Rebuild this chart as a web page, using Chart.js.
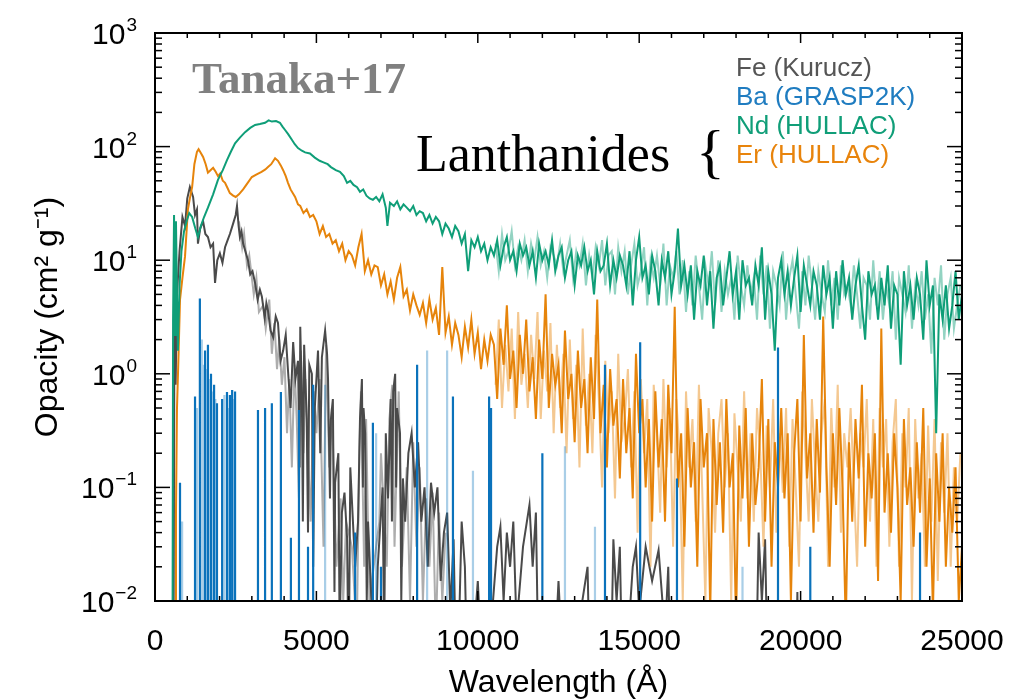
<!DOCTYPE html>
<html>
<head>
<meta charset="utf-8">
<script src="https://cdn.jsdelivr.net/npm/chart.js@4.4.1/dist/chart.umd.min.js"></script>
<style>
  body { margin: 0; background: #fff; }
  #wrap { position: relative; width: 1027px; height: 699px; }
  .note { position: absolute; white-space: nowrap; line-height: 1; }
  #tanaka { left: 192px; top: 52px; font: bold 45px "Liberation Serif", serif; color: #808080; }
  #lanth { left: 416px; top: 124px; font: 52px "Liberation Serif", serif; color: #000; }
  #brace { left: 696px; top: 117px; font: 60px "Liberation Serif", serif; color: #000; }
  .leg { left: 736px; font: 26px "Liberation Sans", Arial, sans-serif; }
</style>
</head>
<body>
<div id="wrap">
  <canvas id="grafica" width="1027" height="699"></canvas>
  <div class="note" id="tanaka">Tanaka+17</div>
  <div class="note" id="lanth">Lanthanides</div>
  <div class="note" id="brace">{</div>
  <div class="note leg" style="top:52px;color:#555555">Fe (Kurucz)</div>
  <div class="note leg" style="top:81px;color:#1f7cc0">Ba (GRASP2K)</div>
  <div class="note leg" style="top:110px;color:#109e78">Nd (HULLAC)</div>
  <div class="note leg" style="top:139px;color:#e8840c">Er (HULLAC)</div>
</div>
<script>
// axis ticks
const xTickValues = [0, 5000, 10000, 15000, 20000, 25000];
const yTickValues = [1000, 100, 10, 1, 0.1, 0.01];
const yTickPowers = ['3', '2', '1', '0', '\u22121', '\u22122'];

// wavelength grids of the noisy red part (A)
const noiseWave = [
  10500, 10600, 10700, 10800, 10900, 11000, 11100, 11200, 11300, 11400,
  11500, 11600, 11700, 11800, 11900, 12000, 12100, 12200, 12300, 12400,
  12500, 12600, 12700, 12800, 12900, 13000, 13100, 13200, 13300, 13400,
  13500, 13600, 13700, 13800, 13900, 14000, 14100, 14200, 14300, 14400,
  14500, 14600, 14700, 14800, 14900, 15000, 15100, 15200, 15300, 15400,
  15500, 15600, 15700, 15800, 15900, 16000, 16100, 16200, 16300, 16400,
  16500, 16600, 16700, 16800, 16900, 17000, 17100, 17200, 17300, 17400,
  17500, 17600, 17700, 17800, 17900, 18000, 18100, 18200, 18300, 18400,
  18500, 18600, 18700, 18800, 18900, 19000, 19100, 19200, 19300, 19400,
  19500, 19600, 19700, 19800, 19900, 20000, 20100, 20200, 20300, 20400,
  20500, 20600, 20700, 20800, 20900, 21000, 21100, 21200, 21300, 21400,
  21500, 21600, 21700, 21800, 21900, 22000, 22100, 22200, 22300, 22400,
  22500, 22600, 22700, 22800, 22900, 23000, 23100, 23200, 23300, 23400,
  23500, 23600, 23700, 23800, 23900, 24000, 24100, 24200, 24300, 24400,
  24500, 24600, 24700, 24800, 24900, 25000
];
const noiseWave2 = [
  10550, 10650, 10750, 10850, 10950, 11050, 11150, 11250, 11350, 11450,
  11550, 11650, 11750, 11850, 11950, 12050, 12150, 12250, 12350, 12450,
  12550, 12650, 12750, 12850, 12950, 13050, 13150, 13250, 13350, 13450,
  13550, 13650, 13750, 13850, 13950, 14050, 14150, 14250, 14350, 14450,
  14550, 14650, 14750, 14850, 14950, 15050, 15150, 15250, 15350, 15450,
  15550, 15650, 15750, 15850, 15950, 16050, 16150, 16250, 16350, 16450,
  16550, 16650, 16750, 16850, 16950, 17050, 17150, 17250, 17350, 17450,
  17550, 17650, 17750, 17850, 17950, 18050, 18150, 18250, 18350, 18450,
  18550, 18650, 18750, 18850, 18950, 19050, 19150, 19250, 19350, 19450,
  19550, 19650, 19750, 19850, 19950, 20050, 20150, 20250, 20350, 20450,
  20550, 20650, 20750, 20850, 20950, 21050, 21150, 21250, 21350, 21450,
  21550, 21650, 21750, 21850, 21950, 22050, 22150, 22250, 22350, 22450,
  22550, 22650, 22750, 22850, 22950, 23050, 23150, 23250, 23350, 23450,
  23550, 23650, 23750, 23850, 23950, 24050, 24150, 24250, 24350, 24450,
  24550, 24650, 24750, 24850, 24950
];

// Nd (HULLAC)
const ndWave = [
  450, 540, 560, 590, 620, 650, 680, 710, 760, 820, 900, 980, 1060, 1150, 1250, 1330,
  1420, 1520, 1640, 1800, 1950, 2100, 2230, 2350, 2480, 2630, 2790, 2950, 3100, 3250,
  3410, 3520, 3620, 3750, 3870, 3950, 4030, 4130, 4240, 4330, 4430, 4550, 4650, 4800,
  4950, 5100, 5200, 5350, 5450, 5600, 5730, 5850, 5950, 6050, 6150, 6260, 6350, 6450,
  6550, 6650, 6750, 6850, 6950, 7050, 7150, 7200, 7280, 7400, 7500, 7600, 7700, 7800,
  7900, 8000, 8100, 8200, 8300, 8400, 8500, 8600, 8700, 8800, 8900, 9000, 9100, 9200,
  9300, 9400, 9500, 9600, 9700, 9800, 9900, 10000, 10100, 10200, 10300, 10400
];
const ndOpacity = [
  0.001, 0.001, 3, 25, 2.2, 22, 5, 1.6, 6, 12, 18, 22, 26, 24, 19, 16,
  20, 24, 29, 38, 51, 62, 76, 90, 107, 120, 134, 146, 155, 158,
  162, 170, 166, 168, 162, 150, 140, 128, 115, 105, 97, 92, 89, 87,
  80, 75, 73, 70, 66, 62, 60, 55, 48, 50, 46, 44, 40, 42,
  37, 35, 34, 36, 33, 38, 29, 20, 32, 30, 33, 28, 31, 29,
  27, 30, 25, 27, 26, 22, 25, 21, 24, 22, 17, 21, 19, 16,
  20, 18, 14, 17, 8, 15, 13, 16, 12, 14, 10, 13
];
const ndNoise = [
  11, 15, 9, 13, 16, 10, 12, 8, 14, 11,
  13, 9, 12, 7, 14, 10, 12, 9, 15, 8,
  11, 13, 7, 10, 12, 6, 11, 9, 13, 8,
  10, 5, 12, 8, 9, 14, 6, 10, 7, 11,
  9, 6, 12, 4, 10, 16, 7, 9, 5, 11,
  8, 4, 10, 7, 12, 5, 8, 19, 6, 9,
  5, 9, 3, 8, 6, 11, 4, 8, 2.5, 7,
  9, 4, 7, 12, 5, 8, 3, 10, 6, 7,
  4, 9, 6, 13, 3, 8, 5, 1.6, 7, 10,
  5, 8, 4, 7, 11, 3.5, 9, 6, 4, 8,
  6, 3, 9, 5, 7, 2.5, 8, 4, 10, 5,
  7, 3, 6, 9, 4, 2, 8, 5, 6, 3,
  7, 4, 9, 2.5, 6, 5, 1.2, 8, 4, 6,
  3, 7, 5, 2, 10, 4, 6, 0.3, 5, 3,
  6, 2.5, 4, 8, 3, 5
];
const ndFaint = [
  14, 8, 17, 10, 12, 18, 9, 13, 10, 15,
  8, 14, 10, 16, 9, 12, 7, 13, 11, 9,
  14, 8, 11, 15, 7, 12, 9, 14, 6, 11,
  7, 13, 9, 15, 6, 11, 12, 5, 13, 8,
  12, 5, 9, 14, 6, 8, 13, 4, 10, 7,
  11, 6, 14, 4, 9, 7, 12, 5, 10, 3.5,
  8, 4, 11, 6, 3, 9, 6, 12, 4, 10,
  3.5, 8, 5, 7, 3, 11, 6, 4, 9, 5,
  7, 3, 11, 5, 9, 2.5, 8, 6, 4, 12,
  3, 7, 10, 5, 2.5, 8, 4, 11, 6, 3,
  8, 5, 3.5, 10, 4, 7, 3, 9, 5, 6,
  4, 9, 5, 2.5, 7, 6, 3, 10, 4, 8,
  3, 6, 4, 8, 2, 7, 5, 3.5, 9, 2.5,
  6, 4, 8, 3, 5, 1.5, 7, 4, 9, 2,
  5, 7, 2.5, 4, 6
];

// Er (HULLAC)
const erWave = [
  560, 620, 650, 680, 730, 775, 850, 930, 1020, 1080, 1150, 1220, 1300, 1350, 1420, 1490,
  1570, 1640, 1720, 1800, 1880, 1950, 2020, 2100, 2170, 2250, 2320, 2420, 2500, 2600,
  2730, 2850, 3000, 3150, 3300, 3420, 3500, 3600, 3720, 3810, 3900, 3970, 4050, 4120,
  4200, 4340, 4430,
  4500, 4600, 4700, 4800, 4900, 5000, 5100, 5200, 5300, 5400, 5500, 5600, 5700, 5800,
  5900, 6000, 6100, 6200, 6300, 6400, 6500, 6600, 6700, 6800, 6900, 7000, 7100, 7200,
  7300, 7400, 7500, 7600, 7700, 7800, 7900, 8000, 8100, 8200, 8300, 8400, 8500, 8600,
  8700, 8800, 8900, 9000, 9100, 9200, 9300, 9400, 9500, 9600, 9700, 9800, 9900, 10000,
  10100, 10200, 10300, 10400
];
const erOpacity = [
  0.001, 0.001, 0.06, 0.48, 1.5, 4.5, 7, 10.8, 28, 35, 44, 70, 90, 95, 88, 81,
  70, 59, 62, 65, 60, 55, 58, 50, 48, 43, 39, 37, 36, 38,
  42, 47, 54, 57, 60, 63, 66, 70, 79, 75, 68, 62, 55, 48,
  42, 36, 31,
  30, 26, 28, 24, 25, 22, 17, 20, 16, 17, 14, 15, 12, 14,
  10, 12, 11, 9, 13, 17, 8, 10, 7.5, 9, 8.7, 6, 7.5, 5,
  6.5, 4.5, 7, 8.7, 4.8, 5.5, 3.6, 5, 4, 3.3, 4.2, 2.8, 4.5, 3,
  3.8, 2.2, 8.7, 2.3, 3.2, 1.8, 2.8, 2.2, 1.4, 2.6, 1.7, 3, 1.5, 2.3,
  1.1, 2, 1.3, 2.2
];
const erNoise = [
  1.8, 0.6, 2.5, 1.2, 4, 0.9, 1.6, 0.5, 2.2, 1.0,
  3, 0.7, 1.4, 0.4, 2, 0.9, 5, 0.5, 1.5, 0.8,
  1.2, 0.3, 2.4, 0.6, 1.0, 0.25, 1.6, 0.5, 0.9, 0.2,
  1.4, 0.4, 4.5, 0.3, 0.8, 0.15, 1.1, 0.35, 0.6, 0.12,
  0.9, 0.2, 0.5, 0.08, 1.5, 0.3, 0.6, 0.1, 0.4, 0.05,
  0.7, 0.15, 0.4, 0.05, 0.8, 0.2, 3.9, 0.1, 0.3, 0.03,
  0.5, 0.1, 0.25, 0.02, 0.6, 0.15, 0.3, 0.008, 0.4, 0.07,
  0.25, 0.04, 0.6, 0.1, 0.2, 0.006, 0.35, 0.08, 0.5, 0.03,
  0.3, 0.07, 0.15, 0.9, 0.05, 0.4, 0.02, 0.25, 0.1, 0.5,
  0.08, 0.3, 0.01, 0.2, 0.6, 0.05, 2.2, 0.12, 0.3, 0.04,
  0.4, 0.09, 3.2, 0.15, 0.02, 0.3, 0.07, 0.5, 0.1, 0.006,
  0.25, 0.05, 0.4, 0.12, 0.8, 0.03, 0.2, 0.08, 0.3, 0.015,
  2.5, 0.06, 0.2, 0.04, 0.3, 0.1, 0.01, 0.4, 0.07, 0.15,
  0.03, 0.25, 0.06, 0.5, 0.02, 0.12, 0.008, 0.2, 0.05, 0.3,
  0.02, 0.1, 0.04, 0.15, 0.01, 0.03
];
const erFaint = [
  0.8, 3, 0.5, 1.8, 0.7, 2.5, 0.4, 3.5, 0.8, 1.5,
  0.5, 2.2, 0.9, 3.5, 0.4, 1.6, 0.7, 2.8, 0.3, 1.8,
  0.5, 1.5, 0.2, 2, 0.4, 1.2, 0.15, 2.5, 0.35, 1.0,
  0.2, 2.2, 0.6, 0.1, 1.3, 0.3, 0.7, 0.08, 1.5, 0.25,
  0.4, 1.1, 0.15, 0.7, 0.04, 0.9, 0.2, 0.6, 0.02, 0.8,
  0.3, 0.06, 0.9, 0.15, 0.5, 0.03, 0.6, 0.2, 0.01, 0.7,
  0.15, 0.4, 0.05, 0.8, 0.1, 0.01, 0.5, 0.2, 0.04, 0.3,
  0.6, 0.1, 0.3, 0.01, 0.45, 0.15, 0.05, 0.7, 0.08, 0.3,
  0.05, 0.5, 0.2, 0.03, 0.35, 0.1, 0.6, 0.04, 0.3, 0.09,
  0.5, 0.03, 0.4, 0.1, 0.02, 0.7, 0.2, 0.05, 0.6, 0.15,
  0.05, 0.3, 0.6, 0.02, 0.5, 0.1, 0.8, 0.04, 0.3, 0.15,
  0.5, 0.1, 0.02, 0.3, 0.15, 0.6, 0.05, 0.4, 0.02, 0.5,
  0.15, 0.4, 0.03, 0.25, 0.6, 0.02, 0.3, 0.1, 0.5, 0.01,
  0.4, 0.08, 0.2, 0.02, 0.35, 0.05, 0.4, 0.015, 0.25, 0.06,
  0.3, 0.02, 0.15, 0.05, 0.2
];

// Fe (Kurucz)
const feWave = [
  500, 570, 600, 640, 680, 760, 850, 930, 1000, 1080, 1180, 1240, 1300, 1330, 1400, 1490,
  1560, 1640, 1720, 1800, 1860, 1930, 2010, 2090, 2170, 2250, 2320, 2420, 2500, 2540,
  2590, 2630, 2680, 2730, 2800, 2880, 2950, 3020, 3100, 3180, 3250, 3310, 3400, 3450,
  3500, 3580, 3660, 3740, 3810, 3890, 3970, 4050, 4120, 4200, 4280, 4350, 4430, 4480,
  4500, 4550, 4580, 4620, 4700, 4740, 4780, 4860, 4900, 4950, 5050, 5120, 5170, 5270,
  5330, 5360, 5420, 5450, 5510, 5560, 5580, 5680, 5720, 5790, 5870, 5950, 6000, 6050,
  6200, 6290, 6350, 6410, 6440, 6460, 6510, 6560, 6600, 6720, 6800, 6900, 7050, 7100,
  7150, 7220, 7300, 7340, 7380, 7440, 7470, 7500, 7590, 7630, 7680, 7750, 7850, 7950,
  8050, 8150, 8250, 8350, 8450, 8550, 8650, 8750, 8850, 8950, 9050, 9150, 9250, 9350,
  9500, 9600, 9700, 10000, 10200, 10600, 10700, 10800, 10900, 11000, 11100, 11200, 11400, 11600,
  11700, 11800, 11900, 12300, 12500, 12700, 13400, 13500, 14100, 14200, 14300, 14400, 14500, 14800,
  14900, 15000, 15200, 15400, 15600, 15800, 15900, 16000, 18600, 18700, 18800, 18900, 19000, 19850,
  19900, 19950, 25000
];
const feOpacity = [
  0.001, 0.001, 2.3, 0.8, 5, 12, 24, 20, 35, 44, 36, 25, 28, 14, 19, 22,
  17, 16, 13, 14, 6.3, 10, 11.5, 9.5, 13, 15, 17, 21, 25, 30,
  20, 16, 18, 14, 12, 10, 7.5, 8, 6.3, 4.5, 5.5, 4.8, 3.1, 4.2,
  3.6, 2.4, 2.1, 3.2, 2.8, 1.3, 1.6, 2.2, 1.07, 0.5, 1.9, 0.9, 1.3, 0.15,
  2.6, 0.63, 0.05, 1.8, 0.4, 0.04, 1.2, 1.0, 0.02, 0.5, 1.6, 0.2, 1.4, 2.4,
  1.5, 0.9, 0.08, 0.4, 0.6, 0.012, 0.11, 0.2, 0.005, 0.06, 0.09, 0.036, 0.002, 0.15,
  0.02, 0.05, 0.4, 0.9, 0.1, 0.5, 0.3, 0.01, 0.05, 0.008, 0.001, 0.02, 0.1, 0.004,
  0.3, 0.08, 0.6, 0.05, 0.7, 1.0, 0.1, 0.5, 0.3, 0.01, 0.12, 0.05, 0.2, 0.3,
  0.1, 0.25, 0.05, 0.1, 0.02, 0.11, 0.06, 0.1, 0.015, 0.04, 0.06, 0.008, 0.035, 0.001,
  0.05, 0.02, 0.001, 0.015, 0.001, 0.03, 0.045, 0.01, 0.04, 0.02, 0.05, 0.006, 0.03, 0.07,
  0.02, 0.06, 0.001, 0.001, 0.015, 0.001, 0.02, 0.001, 0.001, 0.035, 0.01, 0.03, 0.001, 0.02,
  0.03, 0.008, 0.03, 0.015, 0.028, 0.005, 0.02, 0.001, 0.001, 0.04, 0.01, 0.035, 0.001, 0.001,
  0.012, 0.001, 0.001
];
const feFaintWave = [
  2600, 2700, 2760, 2850, 2920, 3060, 3140, 3220, 3350, 3430, 3540, 3620, 3700, 3780, 3850,
  3930, 4010, 4090, 4160, 4240, 4320, 4390, 4460, 4520, 4600, 4660, 4820, 4920, 5000, 5100,
  5220, 5300, 5400, 5480, 5620, 5750, 5830, 5920, 6100, 6250, 6330, 6380, 6480, 6540, 6640,
  6950, 7000, 7180, 7260, 7350, 7420, 7550, 7650, 7800, 7900, 8000, 8100, 8200, 8300, 8400,
  8500, 8600, 8700, 8800, 8900, 9000
];
const feFaint = [
  22, 13, 17, 9, 11, 5, 7, 3.5, 4, 2.5, 4.5, 1.5, 2.8, 1.1, 2,
  0.8, 1.4, 0.3, 0.9, 0.15, 1.2, 0.4, 0.08, 1.6, 0.2, 0.9, 0.05, 0.7, 0.3, 0.9,
  0.03, 1.8, 0.15, 0.5, 0.02, 0.08, 0.01, 0.05, 0.03, 0.005, 0.2, 0.7, 0.02, 0.4, 0.01,
  0.05, 0.2, 0.02, 0.4, 0.8, 0.03, 0.7, 0.02, 0.15, 0.01, 0.25, 0.03, 0.15, 0.01, 0.08,
  0.02, 0.09, 0.005, 0.06, 0.01, 0.04
];

// Ba (GRASP2K): isolated lines, peak value at each wavelength
const baWave = [
  775, 1240, 1390, 1550, 1640, 1735, 1830, 1920, 2080, 2230, 2320, 2390, 2480,
  3190, 3410, 3620, 3900, 4210, 4460, 4740, 4900, 6200, 6750, 7000, 8120, 9230,
  10350, 10410, 12000, 13940, 15030, 16170, 19300, 20300, 23700
];
const baPeak = [
  0.11, 0.63, 4.6, 1.6, 1.8, 1.0, 0.8, 0.55, 0.6, 0.69, 0.65, 0.72, 0.7,
  0.48, 0.5, 0.55, 0.69, 0.036, 0.48, 0.03, 0.8, 0.04, 0.37, 0.02, 1.2, 0.63,
  0.63, 0.5, 0.2, 1.2, 1.9, 0.12, 1.7, 0.03, 0.04
];
const baFaintWave = [
  840, 1300, 1450, 1490, 1600, 1690, 1780, 1870, 2150, 2280, 2440,
  5270, 6850, 8430, 9050, 9850, 12700, 13630, 18200
];
const baFaintPeak = [
  0.05, 0.5, 2.0, 1.2, 1.1, 0.9, 0.7, 0.6, 0.65, 0.5, 0.6,
  0.8, 0.3, 1.6, 1.6, 0.14, 0.23, 0.045, 0.02
];
const lineFloor = 0.001; // below the axis minimum

function puntos(wave, vals) {
  return wave.map((w, i) => ({ x: w, y: vals[i] }));
}
function lineas(wave, peaks) {
  const out = [];
  wave.forEach((w, i) => {
    out.push({ x: w, y: lineFloor }, { x: w, y: peaks[i] }, { x: w, y: lineFloor });
  });
  return out;
}

const cBa = '#0a72bb', cNd = '#0f9e78', cEr = '#e6840b', cFe = '#4a4a4a';

// frame, inward ticks and 10^n labels
const marco = {
  id: 'marco',
  afterDraw(chart) {
    const { ctx, chartArea: a, scales: { x, y } } = chart;
    ctx.save();
    ctx.strokeStyle = '#000';
    ctx.lineWidth = 1.5;
    const seg = (x1, y1, x2, y2) => { ctx.beginPath(); ctx.moveTo(x1, y1); ctx.lineTo(x2, y2); ctx.stroke(); };
    for (let e = -2; e < 3; e++) {
      for (let m = 1; m <= 9; m++) {
        const py = y.getPixelForValue(m * Math.pow(10, e));
        const len = m === 1 ? 15 : 7;
        seg(a.left, py, a.left + len, py);
        seg(a.right, py, a.right - len, py);
      }
    }
    for (let v = 0; v <= 25000; v += 1000) {
      const px = x.getPixelForValue(v);
      const len = v % 5000 === 0 ? 10 : 5;
      seg(px, a.bottom, px, a.bottom - len);
      seg(px, a.top, px, a.top + len);
    }
    ctx.lineWidth = 2;
    ctx.strokeRect(a.left, a.top, a.right - a.left, a.bottom - a.top);

    ctx.fillStyle = '#000';
    ctx.textBaseline = 'alphabetic';
    ctx.textAlign = 'right';
    yTickValues.forEach((v, i) => {
      const py = y.getPixelForValue(v);
      const right = a.left - 18;
      ctx.font = '19px "Liberation Sans", Arial, sans-serif';
      const w = ctx.measureText(yTickPowers[i]).width;
      ctx.fillText(yTickPowers[i], right, py - 2);
      ctx.font = '30px "Liberation Sans", Arial, sans-serif';
      ctx.fillText('10', right - w - 1, py + 11);
    });
    ctx.restore();
  }
};

const base = { pointRadius: 0, tension: 0, fill: false, borderJoinStyle: 'miter' };

new Chart(document.getElementById('grafica'), {
  type: 'line',
  data: {
    datasets: [
      { ...base, label: 'Ba (GRASP2K)', data: lineas(baWave, baPeak), borderColor: cBa, borderWidth: 2.2 },
      { ...base, label: 'Ba faint', data: lineas(baFaintWave, baFaintPeak), borderColor: 'rgba(10,114,187,0.35)', borderWidth: 2.2 },
      { ...base, label: 'Nd (HULLAC)', data: puntos(ndWave.concat(noiseWave), ndOpacity.concat(ndNoise)), borderColor: cNd, borderWidth: 2 },
      { ...base, label: 'Nd faint', data: puntos(noiseWave2, ndFaint), borderColor: 'rgba(15,158,120,0.45)', borderWidth: 2 },
      { ...base, label: 'Er (HULLAC)', data: puntos(erWave.concat(noiseWave), erOpacity.concat(erNoise)), borderColor: cEr, borderWidth: 2 },
      { ...base, label: 'Er faint', data: puntos(noiseWave2, erFaint), borderColor: 'rgba(230,132,11,0.45)', borderWidth: 2 },
      { ...base, label: 'Fe (Kurucz)', data: puntos(feWave, feOpacity), borderColor: cFe, borderWidth: 2 },
      { ...base, label: 'Fe faint', data: puntos(feFaintWave, feFaint), borderColor: 'rgba(74,74,74,0.45)', borderWidth: 2 }
    ]
  },
  options: {
    responsive: false,
    animation: false,
    layout: { padding: { top: 33, right: 65, left: 0, bottom: 0 } },
    plugins: { legend: { display: false }, tooltip: { enabled: false } },
    scales: {
      x: {
        type: 'linear', min: 0, max: 25000, offset: false,
        grid: { display: false, offset: false },
        border: { display: false },
        afterBuildTicks: s => { s.ticks = xTickValues.map(v => ({ value: v })); },
        afterFit: s => { s.height = 98; },
        ticks: {
          padding: 15, color: '#000',
          font: { family: '"Liberation Sans", Arial, sans-serif', size: 30 },
          callback: v => String(v)
        },
        title: {
          display: true, text: 'Wavelength (\u00c5)', color: '#000',
          font: { family: '"Liberation Sans", Arial, sans-serif', size: 32, lineHeight: 1 },
          padding: { top: 0, bottom: 0 }
        }
      },
      y: {
        type: 'logarithmic', min: 0.01, max: 1000,
        grid: { display: false },
        border: { display: false },
        ticks: { display: false },
        afterFit: s => { s.width = 155; },
        title: {
          display: true, text: 'Opacity (cm\u00b2 g\u207b\u00b9)', color: '#000',
          font: { family: '"Liberation Sans", Arial, sans-serif', size: 32, lineHeight: 1 },
          padding: { top: 32, bottom: 0 }
        }
      }
    }
  },
  plugins: [marco]
});
</script>
</body>
</html>
